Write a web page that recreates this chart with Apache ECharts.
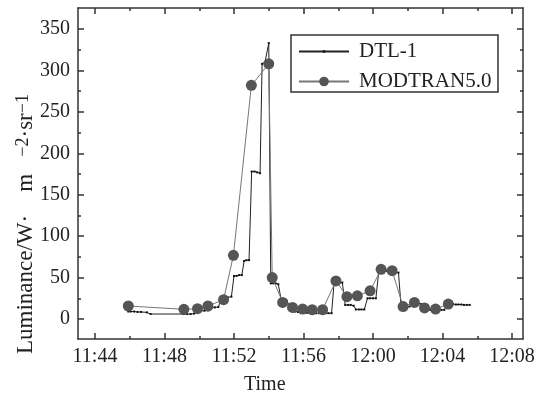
<!DOCTYPE html>
<html>
<head>
<meta charset="utf-8">
<script src="https://cdn.jsdelivr.net/npm/echarts@6/dist/echarts.min.js"></script>
<style>
  html, body { margin: 0; padding: 0; background: #fff; }
  #chart { width: 546px; height: 396px; }
</style>
</head>
<body>
<div id="chart"></div>
<script>
// DTL-1 measurement
var dtlTime = [
    '11:45:55', '11:46:03', '11:46:15', '11:46:27', '11:46:39', '11:46:59', '11:47:12',
    '11:49:06', '11:49:18', '11:49:30', '11:49:42', '11:49:56', '11:50:06', '11:50:18', '11:50:30',
    '11:50:44', '11:50:54', '11:51:06', '11:51:15', '11:51:27', '11:51:39', '11:51:51',
    '11:52:00', '11:52:09', '11:52:18', '11:52:27', '11:52:35', '11:52:43', '11:52:52',
    '11:53:01', '11:53:11', '11:53:20', '11:53:30', '11:53:37', '11:53:47', '11:54:00',
    '11:54:07', '11:54:16', '11:54:24', '11:54:33', '11:54:43', '11:54:53', '11:55:02',
    '11:55:12', '11:55:22', '11:55:31', '11:55:41', '11:55:50', '11:56:00', '11:56:11',
    '11:56:22', '11:56:32', '11:56:43', '11:56:54', '11:57:05', '11:57:16', '11:57:26',
    '11:57:37', '11:57:46', '11:57:55', '11:58:05', '11:58:14', '11:58:24', '11:58:34',
    '11:58:43', '11:58:53', '11:59:01', '11:59:11', '11:59:20', '11:59:30', '11:59:41',
    '11:59:50', '12:00:00', '12:00:10', '12:00:20', '12:00:30', '12:00:40', '12:00:49',
    '12:00:59', '12:01:08', '12:01:18', '12:01:28', '12:01:37', '12:01:47', '12:01:56',
    '12:02:06', '12:02:18', '12:02:28', '12:02:37', '12:02:47', '12:02:59', '12:03:08',
    '12:03:18', '12:03:28', '12:03:37', '12:03:47', '12:03:56', '12:04:06', '12:04:17',
    '12:04:26', '12:04:36', '12:04:46', '12:04:55', '12:05:05', '12:05:14', '12:05:24', '12:05:34'
];
var dtlValue = [
    9, 9, 9, 8.5, 8.5, 8, 6,
    6, 6, 6, 6.5, 10, 10, 10, 10.5,
    14, 14, 14.5, 23, 24, 26, 27,
    52, 52, 53, 53, 70, 71, 71,
    178, 178, 177, 176, 308, 310, 333,
    43, 43, 43, 42, 23, 23, 22,
    16, 9, 9, 8.5, 8, 8, 7.5,
    7, 7, 7, 7, 7, 7, 7,
    7, 45, 45, 44, 44, 17, 17,
    17, 16, 11.5, 11.5, 11.5, 11.5, 25,
    25, 25, 25, 58, 58, 58, 58,
    58, 57, 56, 56, 15, 15, 15,
    15, 19, 19, 19, 18, 11, 11,
    11, 11, 11, 11, 11, 11, 18,
    18, 18, 17.5, 17.5, 17.5, 17, 17, 17
];

// MODTRAN5.0 simulation
var modTime = [
    '11:45:55', '11:49:07', '11:49:54', '11:50:30', '11:51:24', '11:51:58', '11:53:00',
    '11:54:00', '11:54:12', '11:54:48', '11:55:22', '11:55:57', '11:56:30', '11:57:06',
    '11:57:52', '11:58:30', '11:59:06', '11:59:50', '12:00:28', '12:01:06', '12:01:44',
    '12:02:23', '12:02:58', '12:03:36', '12:04:20'
];
var modValue = [
    15.7, 11.7, 12.5, 15.7, 23.3, 76.8, 282,
    308, 50, 20, 14, 12, 11.3, 11.3,
    46, 27, 28, 34, 60, 58.3, 15,
    20, 13.3, 12, 18
];

var xTicks = { min: 704, max: 728, step: 4 };   // 11:44 .. 12:08, minutes since midnight
var yTicks = { min: 0, max: 350, step: 50 };

function toMinutes(s) {
    var p = s.split(':');
    return (+p[0]) * 60 + (+p[1]) + (+p[2]) / 60;
}
function pad(n) { return n < 10 ? '0' + n : '' + n; }

var font = 'Liberation Serif';
var ink = '#222';
var frame = { show: true, onZero: false, lineStyle: { color: '#333', width: 1.5 } };
var off = { show: false };

function frameAxis(pos) {
    return {
        type: 'value', gridIndex: 0, position: pos, min: 0, max: 1,
        axisLine: frame, axisTick: off, axisLabel: off, splitLine: off
    };
}
function tickAxis(pos, o, range, showLabel, fmt) {
    return {
        type: 'value', gridIndex: 1, position: pos, offset: o,
        min: range.min, max: range.max, interval: range.step,
        axisLine: { show: false, onZero: false },
        axisTick: { show: true, inside: true, length: 6, lineStyle: { color: '#333', width: 1.5 } },
        minorTick: { show: true, splitNumber: 2, length: 3, lineStyle: { color: '#333', width: 1.5 } },
        axisLabel: {
            show: showLabel, margin: 8, color: ink, fontFamily: font, fontSize: 20,
            formatter: fmt
        },
        splitLine: off
    };
}
var timeFmt = function (v) { return Math.floor(v / 60) + ':' + pad(v % 60); };

function legendAt(name, top, h) {
    return {
        orient: 'vertical', left: 298, top: top, padding: 0,
        itemWidth: 50, itemHeight: h,
        textStyle: { color: ink, fontFamily: font, fontSize: 21, padding: [0, 0, 0, 5] },
        data: [name]
    };
}

var chart = echarts.init(document.getElementById('chart'));
chart.setOption({
    animation: false,
    backgroundColor: '#fff',
    grid: [
        { left: 78, right: 23, top: 8, bottom: 57 },
        { left: 95, right: 34, top: 29, bottom: 77 }
    ],
    xAxis: [
        frameAxis('bottom'),
        frameAxis('top'),
        tickAxis('bottom', 20, xTicks, true, timeFmt),
        tickAxis('top', 21, xTicks, false, timeFmt)
    ],
    yAxis: [
        frameAxis('left'),
        frameAxis('right'),
        tickAxis('left', 17, yTicks, true, null),
        tickAxis('right', 11, yTicks, false, null)
    ],
    legend: [
        legendAt('DTL-1', 41, 3),
        legendAt('MODTRAN5.0', 71, 12)
    ],
    graphic: [
        {
            type: 'rect', shape: { x: 291, y: 35, width: 207, height: 57 },
            style: { fill: 'none', stroke: '#333', lineWidth: 1.5 }
        },
        {
            type: 'text', left: 244, top: 375,
            style: { text: 'Time', fill: ink, font: '20px "Liberation Serif"' }
        },
        {
            type: 'text', x: 14, y: 354, rotation: Math.PI / 2,
            style: {
                text: 'Luminance/W·    m   {s|−2}·sr{s|−1}',
                fill: ink, font: '23px "Liberation Serif"',
                rich: { s: { fontSize: 18, fontFamily: font, verticalAlign: 'top', fill: ink } }
            }
        }
    ],
    series: [
        {
            name: 'DTL-1', type: 'line', xAxisIndex: 2, yAxisIndex: 2,
            symbol: 'rect', symbolSize: 2, showAllSymbol: true, clip: false,
            lineStyle: { color: '#222', width: 1 },
            itemStyle: { color: '#111' },
            data: dtlTime.map(function (t, i) { return [toMinutes(t), dtlValue[i]]; }),
            z: 2
        },
        {
            name: 'MODTRAN5.0', type: 'line', xAxisIndex: 2, yAxisIndex: 2,
            symbol: 'circle', symbolSize: 11, showAllSymbol: true, clip: false,
            lineStyle: { color: '#777', width: 1 },
            itemStyle: { color: '#555' },
            data: modTime.map(function (t, i) { return [toMinutes(t), modValue[i]]; }),
            z: 3
        }
    ]
});
</script>
</body>
</html>
